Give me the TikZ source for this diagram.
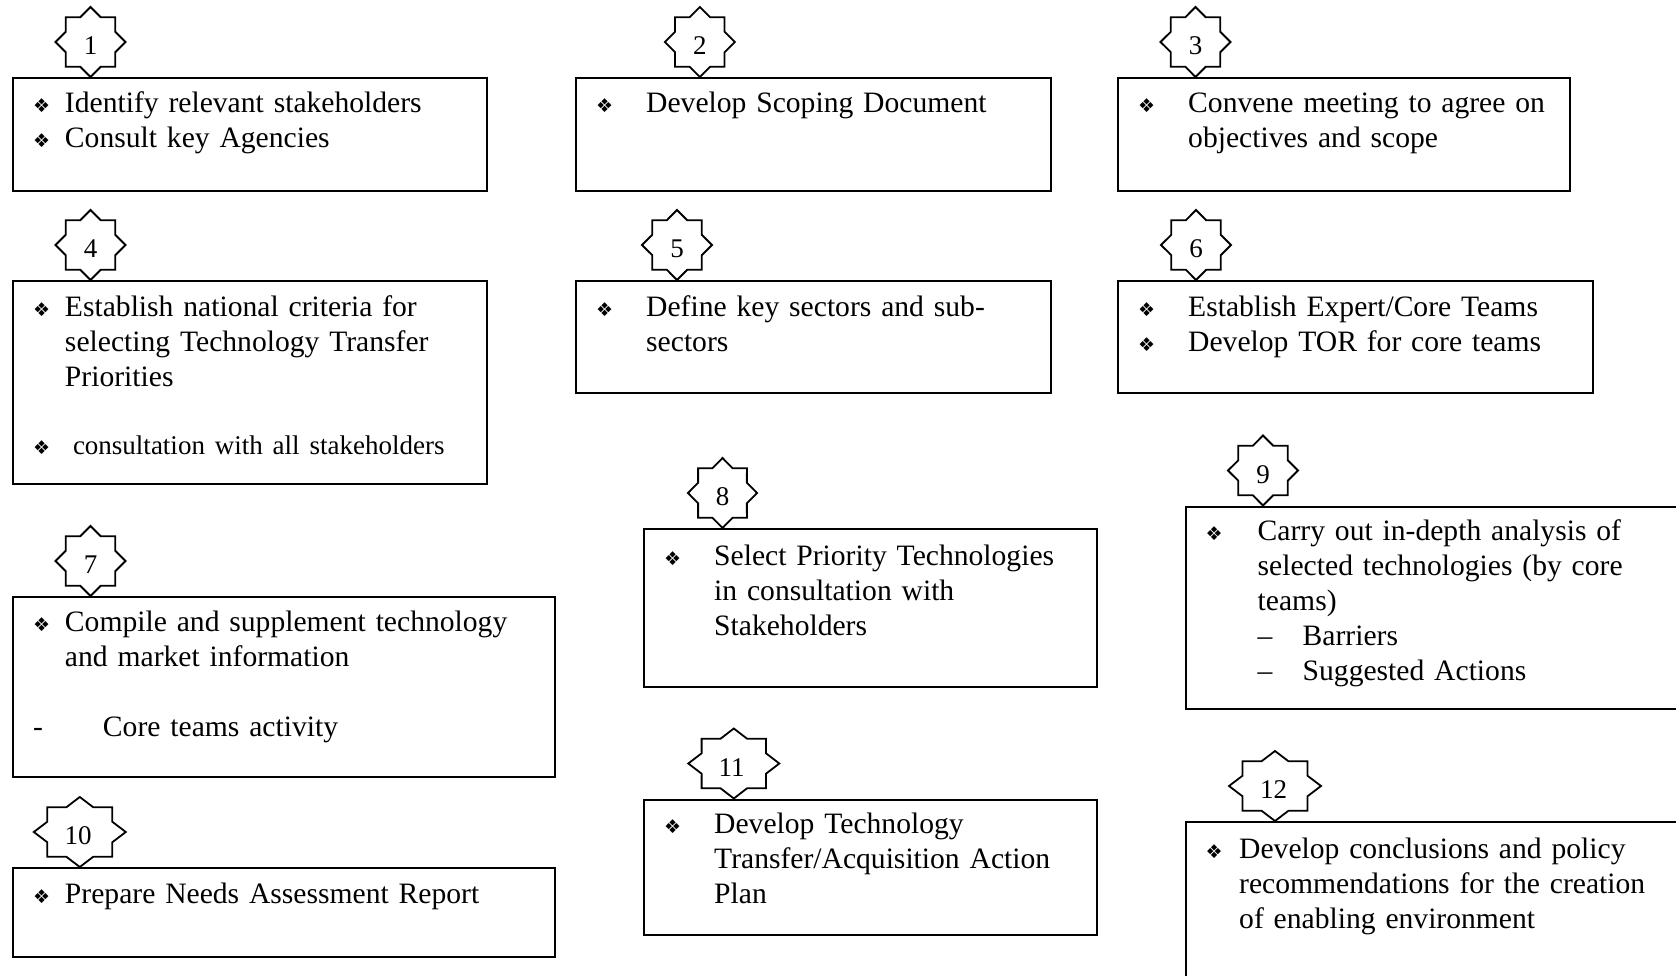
\documentclass[tikz,border=0pt]{standalone}
\usepackage{fontspec}
\setmainfont{Liberation Serif}
\newfontfamily\symfont{DejaVu Sans}
\usetikzlibrary{calc}

\newcommand{\bul}[1]{\makebox[#1pt][l]{{\symfont\fontsize{19}{20}\selectfont ❖}}}
\newcommand{\ind}[1]{\hspace*{#1pt}}
% star with 8 points round a centre: centre, x radius, y radius
\newcommand{\numstar}[3]{%
  \draw[starline, shift={(#1)}] (0:#2 and #3)
    \foreach \k [evaluate=\k as \rad using {mod(\k,2)==0 ? 1 : 0.765}] in {1,...,15}
      { -- ({\k*22.5}:{\rad*#2} and {\rad*#3}) } -- cycle;}

\begin{document}
\begin{tikzpicture}[x=1pt, y=-1pt,
  box/.style={draw, line width=2.2pt, inner sep=0pt, anchor=north west},
  starline/.style={line width=1.8pt, line join=miter},
  numlbl/.style={inner sep=0pt, font=\fontsize{27}{30}\selectfont},
  txt/.style={inner sep=0pt, anchor=base west, align=left, text width=640pt,
    font=\fontsize{29.6}{35}\selectfont}]
  \useasboundingbox (0,0) rectangle (1676,976);
  \clip (0,0) rectangle (1676,976);

  % boxes
  \node[box, minimum width=474.2pt, minimum height=113pt] (b1) at (11.8,77) {};
  \node[box, minimum width=474.5pt, minimum height=113pt] (b2) at (575,77) {};
  \node[box, minimum width=451.5pt, minimum height=113pt] (b3) at (1117,77) {};
  \node[box, minimum width=474.2pt, minimum height=203pt] (b4) at (11.8,280) {};
  \node[box, minimum width=474.5pt, minimum height=112pt] (b5) at (575,280) {};
  \node[box, minimum width=474.5pt, minimum height=112pt] (b6) at (1117,280) {};
  \node[box, minimum width=541.9pt, minimum height=180pt] (b7) at (11.8,596) {};
  \node[box, minimum width=452.5pt, minimum height=157.5pt] (b8) at (643,528) {};
  \node[box, minimum width=520pt, minimum height=202.5pt] (b9) at (1184.5,505.5) {};
  \node[box, minimum width=541.9pt, minimum height=89pt] (b10) at (11.8,867) {};
  \node[box, minimum width=452.5pt, minimum height=135pt] (b11) at (643,798.5) {};
  \node[box, minimum width=520pt, minimum height=180pt] (b12) at (1184.5,821) {};

  % stars
  \numstar{90.5,42}{35}{35}
  \numstar{699.8,42}{35}{35}
  \numstar{1195.5,42}{35}{35}
  \numstar{90.5,245}{35}{35}
  \numstar{677,245}{35}{35}
  \numstar{1196,245}{35}{35}
  \numstar{90.5,561}{35}{35}
  \numstar{722.5,493}{34.5}{35}
  \numstar{1263,470.5}{35}{35}
  \numstar{79.8,832}{46}{35}
  \numstar{733.8,763.5}{45.5}{35}
  \numstar{1275,786}{46}{35}

  \node[numlbl] (s1) at (90.5,46) {1};
  \node[numlbl] (s2) at (699.8,46) {2};
  \node[numlbl] (s3) at (1195.5,46) {3};
  \node[numlbl] (s4) at (90.5,249) {4};
  \node[numlbl] (s5) at (677,249) {5};
  \node[numlbl] (s6) at (1196,249) {6};
  \node[numlbl] (s7) at (90.5,565) {7};
  \node[numlbl] (s8) at (722.5,497) {8};
  \node[numlbl] (s9) at (1263,474.5) {9};
  \node[numlbl] (s10) at (78,836) {10};
  \node[numlbl] (s11) at (731.5,767.5) {11};
  \node[numlbl] (s12) at (1273.5,790) {12};

  % texts
  \node[txt] (t1) at ($(b1.north west)+(21,35.5)$)
    {\bul{32}Identify relevant stakeholders\\ \bul{32}Consult key Agencies};
  \node[txt] (t2) at ($(b2.north west)+(21,36)$)
    {\bul{50}Develop Scoping Document};
  \node[txt] (t3) at ($(b3.north west)+(21,36)$)
    {\bul{50}Convene meeting to agree on\\ \ind{50}objectives and scope};
  \node[txt] (t4) at ($(b4.north west)+(21,36.5)$)
    {\bul{32}Establish national criteria for\\ \ind{32}selecting Technology Transfer\\
     \ind{32}Priorities\\[33pt] \bul{40}{\fontsize{27}{35}\selectfont consultation with all stakeholders}};
  \node[txt] (t5) at ($(b5.north west)+(21,36.5)$)
    {\bul{50}Define key sectors and sub-\\ \ind{50}sectors};
  \node[txt] (t6) at ($(b6.north west)+(21,36.5)$)
    {\bul{50}Establish Expert/Core Teams\\ \bul{50}Develop TOR for core teams};
  \node[txt] (t7) at ($(b7.north west)+(21,35)$)
    {\bul{32}Compile and supplement technology\\ \ind{32}and market information\\[35pt]
     \makebox[70pt][l]{-}Core teams activity};
  \node[txt] (t8) at ($(b8.north west)+(21,37)$)
    {\bul{50}Select Priority Technologies\\ \ind{50}in consultation with\\ \ind{50}Stakeholders};
  \node[txt] (t9) at ($(b9.north west)+(21,35)$)
    {\bul{52}Carry out in-depth analysis of\\ \ind{52}selected technologies (by core\\
     \ind{52}teams)\\ \ind{52}\makebox[45pt][l]{--}Barriers\\ \ind{52}\makebox[45pt][l]{--}Suggested Actions};
  \node[txt] (t10) at ($(b10.north west)+(21,36)$)
    {\bul{32}Prepare Needs Assessment Report};
  \node[txt] (t11) at ($(b11.north west)+(21,35)$)
    {\bul{50}Develop Technology\\ \ind{50}Transfer/Acquisition Action\\ \ind{50}Plan};
  \node[txt] (t12) at ($(b12.north west)+(21,37)$)
    {\bul{33.5}Develop conclusions and policy\\ \ind{33.5}recommendations for the creation\\
     \ind{33.5}of enabling environment};
\end{tikzpicture}
\end{document}
